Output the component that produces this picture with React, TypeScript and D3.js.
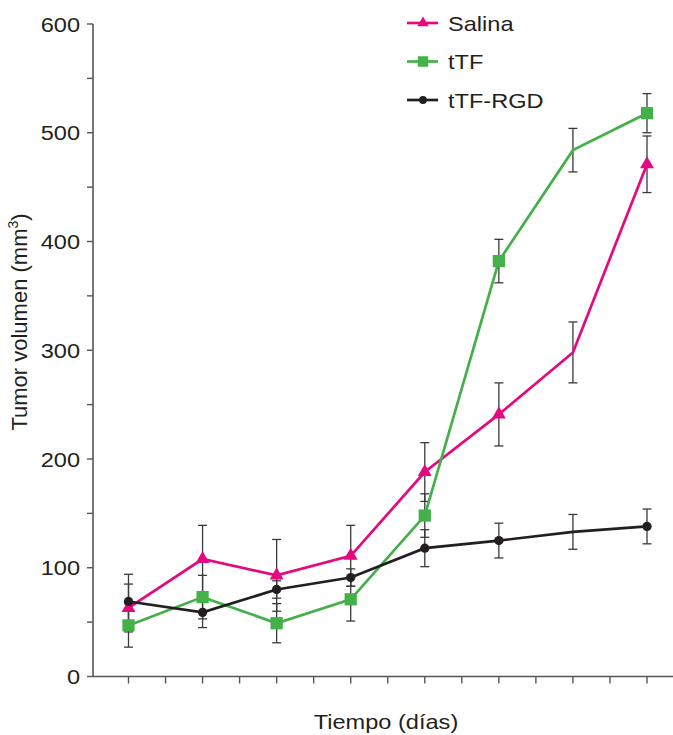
import React from 'react';
import * as d3 from 'd3';

// time points (no labels on the axis)
const days = [1, 2, 3, 4, 5, 6, 7, 8];
// the 7th point carries no marker in the original
const markerShown = [true, true, true, true, true, true, false, true];

const salina = [63, 108, 93, 111, 188, 241, 298, 471];
const salinaErr = [22, 31, 33, 28, 27, 29, 28, 26];
const ttf = [47, 73, 49, 71, 148, 382, 484, 518];
const ttfErr = [20, 20, 18, 20, 20, 20, 20, 18];
const ttfRgd = [69, 59, 80, 91, 118, 125, 133, 138];
const ttfRgdErr = [25, 14, 8, 8, 17, 16, 16, 16];

const yTicks = [0, 100, 200, 300, 400, 500, 600];
const yMinor = [50, 150, 250, 350, 450, 550];

const series = [
  { name: 'Salina', values: salina, err: salinaErr, color: '#e5097f', shape: d3.symbolTriangle, size: 84, legendSize: 56 },
  { name: 'tTF', values: ttf, err: ttfErr, color: '#43b049', shape: d3.symbolSquare, size: 150, legendSize: 110 },
  { name: 'tTF-RGD', values: ttfRgd, err: ttfRgdErr, color: '#231f20', shape: d3.symbolCircle, size: 68, legendSize: 48 },
];

const W = 673, H = 735;
const FONT = '"Liberation Sans", Arial, Helvetica, sans-serif';
const SX = 'scale(1.15,1)';

function App() {
  const x = d3.scaleLinear().domain([1, 8]).range([128.5, 647]);
  const y = d3.scaleLinear().domain([0, 600]).range([676.5, 24]);
  const axisLeft = 93;
  const axisRight = W;

  const line = d3.line<number>()
    .x((d, i) => x(days[i]))
    .y(d => y(d));

  // minor x ticks halfway between days
  const xMinor = days.slice(0, -1).map(d => d + 0.5);

  return (
    <svg width={W} height={H} style={{ position: 'absolute', left: 0, top: 0, background: '#fff' }}
      fontFamily={FONT}>
      {/* y axis */}
      <line x1={axisLeft} x2={axisLeft} y1={y(600)} y2={y(0)} stroke="#555" strokeWidth={1.6} />
      {yTicks.concat(yMinor).map(t => (
        <line key={'yt' + t} x1={axisLeft - 6} x2={axisLeft} y1={y(t)} y2={y(t)} stroke="#555" strokeWidth={1.4} />
      ))}
      {yTicks.map(t => (
        <text key={'yl' + t} transform={`translate(80,${y(t) + 7.5}) ${SX}`} textAnchor="end"
          fontSize={20.5} fill="#231f20">{t}</text>
      ))}

      {/* x axis */}
      <line x1={axisLeft} x2={axisRight} y1={y(0)} y2={y(0)} stroke="#555" strokeWidth={1.6} />
      {days.concat(xMinor).map(d => (
        <line key={'xt' + d} x1={x(d)} x2={x(d)} y1={y(0)} y2={y(0) + 7} stroke="#555" strokeWidth={1.4} />
      ))}

      {/* axis titles */}
      <text transform={`translate(386,729) ${SX}`} textAnchor="middle" fontSize={20.5} fill="#231f20">
        Tiempo (días)
      </text>
      <text transform="translate(27,322) rotate(-90)" textAnchor="middle" fontSize={22} fill="#231f20">
        Tumor volumen (mm<tspan fontSize={14} dy={-9}>3</tspan><tspan dy={9}>)</tspan>
      </text>

      {/* error bars */}
      {series.map(s => (
        <g key={'err' + s.name} stroke="#3a3a3a" strokeWidth={1.3}>
          {s.values.map((v, i) => {
            const cx = x(days[i]);
            const top = y(v + s.err[i]);
            const bot = y(v - s.err[i]);
            return (
              <g key={i}>
                <line x1={cx} x2={cx} y1={top} y2={bot} />
                <line x1={cx - 4.5} x2={cx + 4.5} y1={top} y2={top} />
                <line x1={cx - 4.5} x2={cx + 4.5} y1={bot} y2={bot} />
              </g>
            );
          })}
        </g>
      ))}

      {/* lines and markers */}
      {series.map(s => (
        <g key={'s' + s.name}>
          <path d={line(s.values) || ''} fill="none" stroke={s.color} strokeWidth={2.7} />
          {s.values.map((v, i) => markerShown[i] ? (
            <path key={i} transform={`translate(${x(days[i])},${y(v)})`}
              d={d3.symbol().type(s.shape).size(s.size)() || ''} fill={s.color} />
          ) : null)}
        </g>
      ))}

      {/* legend */}
      {series.map((s, i) => {
        const ly = 23 + i * 38.5;
        return (
          <g key={'lg' + s.name}>
            <line x1={407} x2={438} y1={ly} y2={ly} stroke={s.color} strokeWidth={2.7} />
            <path transform={`translate(423,${ly})`}
              d={d3.symbol().type(s.shape).size(s.legendSize)() || ''} fill={s.color} />
            <text transform={`translate(448,${ly + 7.5}) ${SX}`} fontSize={20.5} fill="#231f20">{s.name}</text>
          </g>
        );
      })}
    </svg>
  );
}

export default App;
